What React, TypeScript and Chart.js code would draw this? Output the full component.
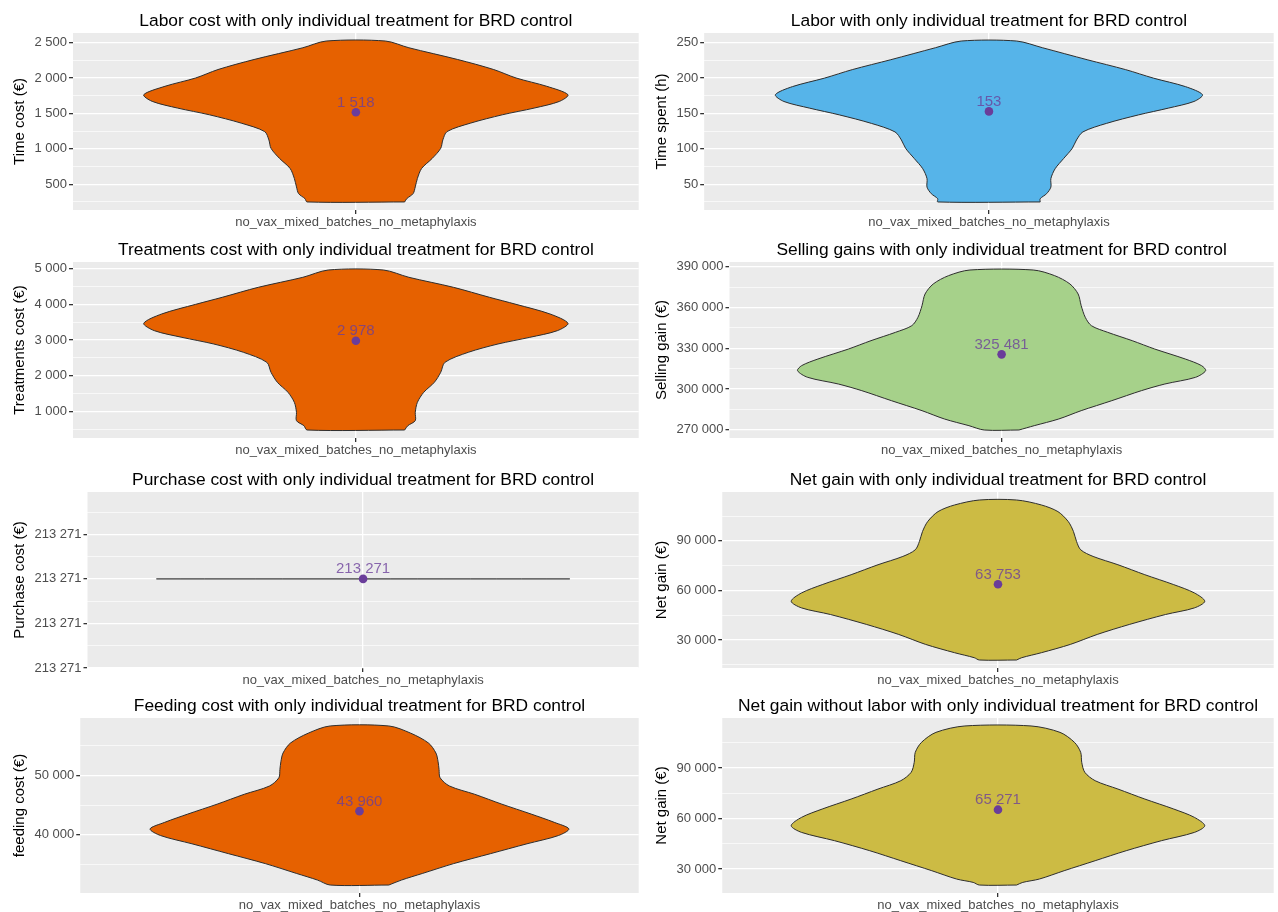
import React, { useEffect, useRef } from "react";
import { Chart, registerables } from "chart.js";

Chart.register(...registerables);

const FONT = "'Liberation Sans', Arial, Helvetica, sans-serif";
const CATEGORY = "no_vax_mixed_batches_no_metaphylaxis";

// ---------------- data ----------------
const panelTitles = [
  "Labor cost with only individual treatment for BRD control",
  "Labor with only individual treatment for BRD control",
  "Treatments cost with only individual treatment for BRD control",
  "Selling gains with only individual treatment for BRD control",
  "Purchase cost with only individual treatment for BRD control",
  "Net gain with only individual treatment for BRD control",
  "Feeding cost with only individual treatment for BRD control",
  "Net gain without labor with only individual treatment for BRD control",
];

const yAxisTitles = [
  "Time cost (€)",
  "Time spent (h)",
  "Treatments cost (€)",
  "Selling gain (€)",
  "Purchase cost (€)",
  "Net gain (€)",
  "feeding cost (€)",
  "Net gain (€)",
];

const meanValues = [1518, 153, 2978, 325481, 213271, 63753, 43960, 65271];

// Violin profiles, bottom -> top: value levels and relative half-width (0..1)
const laborCostY = [249, 296, 367, 462, 581, 723, 865, 1007, 1126, 1244, 1363, 1481, 1576, 1671, 1765, 1884, 2002, 2121, 2263, 2429, 2524];
const laborCostW = [0.23, 0.24, 0.27, 0.28, 0.29, 0.31, 0.36, 0.4, 0.41, 0.43, 0.54, 0.69, 0.84, 0.96, 1.0, 0.9, 0.755, 0.65, 0.48, 0.25, 0.14];

const laborHoursY = [25, 29.6, 36.7, 46, 58, 72, 86.5, 100.7, 112.6, 124, 136, 148, 157.6, 167, 176.5, 188, 200, 212, 226, 243, 252.4];
const laborHoursW = [0.24, 0.24, 0.27, 0.29, 0.29, 0.31, 0.35, 0.39, 0.41, 0.44, 0.55, 0.7, 0.84, 0.96, 1.0, 0.92, 0.77, 0.64, 0.46, 0.25, 0.13];

const treatmentsY = [488, 609, 749, 981, 1260, 1540, 1819, 2098, 2377, 2656, 2888, 3074, 3260, 3465, 3726, 3995, 4191, 4470, 4749, 4953];
const treatmentsW = [0.23, 0.245, 0.28, 0.28, 0.29, 0.32, 0.37, 0.4, 0.42, 0.53, 0.67, 0.82, 0.95, 1.0, 0.915, 0.755, 0.63, 0.46, 0.25, 0.13];

const sellingY = [269804, 272993, 277899, 284031, 291390, 298749, 303655, 308560, 313467, 317147, 322052, 329411, 335544, 341676, 346582, 352715, 361300, 369886, 377245, 383380, 387547];
const sellingW = [0.085, 0.16, 0.28, 0.39, 0.54, 0.685, 0.8, 0.95, 1.0, 0.98, 0.9, 0.75, 0.64, 0.52, 0.44, 0.41, 0.39, 0.375, 0.335, 0.26, 0.155];

const purchaseY = [213271, 213271];
const purchaseW = [1, 1];

const netGainY = [17960, 19365, 22375, 27391, 33411, 39431, 45452, 49465, 53478, 58495, 63512, 69532, 75552, 80569, 84582, 89599, 95619, 101639, 107659, 111672, 114682];
const netGainW = [0.09, 0.115, 0.21, 0.35, 0.48, 0.635, 0.81, 0.95, 1.0, 0.95, 0.85, 0.71, 0.58, 0.46, 0.4, 0.38, 0.365, 0.34, 0.29, 0.21, 0.09];

const feedingY = [31453, 32291, 33408, 35084, 36760, 38436, 39832, 40950, 42067, 43464, 45140, 46816, 48212, 49609, 51006, 52402, 53799, 55475, 57151, 58380];
const feedingW = [0.14, 0.2, 0.3, 0.45, 0.625, 0.8, 0.95, 1.0, 0.93, 0.82, 0.68, 0.55, 0.43, 0.385, 0.38, 0.375, 0.365, 0.33, 0.245, 0.14];

const netNoLaborY = [20495, 22079, 24059, 29010, 34950, 40891, 46832, 51782, 55743, 60693, 65644, 71584, 77525, 82475, 87426, 93366, 99307, 105248, 111188, 115000];
const netNoLaborW = [0.09, 0.12, 0.2, 0.32, 0.47, 0.62, 0.79, 0.95, 1.0, 0.95, 0.85, 0.71, 0.58, 0.47, 0.42, 0.405, 0.4, 0.37, 0.3, 0.16];

const violinY = [laborCostY, laborHoursY, treatmentsY, sellingY, purchaseY, netGainY, feedingY, netNoLaborY];
const violinW = [laborCostW, laborHoursW, treatmentsW, sellingW, purchaseW, netGainW, feedingW, netNoLaborW];

// Tick values (major labelled, minor unlabelled grid lines)
const majorTicks = [
  [500, 1000, 1500, 2000, 2500],
  [50, 100, 150, 200, 250],
  [1000, 2000, 3000, 4000, 5000],
  [270000, 300000, 330000, 360000, 390000],
  [213270.998, 213270.999, 213271, 213271.001],
  [30000, 60000, 90000, 120000],
  [40000, 50000],
  [30000, 60000, 90000, 120000],
];
const minorTicks = [
  [250, 750, 1250, 1750, 2250],
  [25, 75, 125, 175, 225],
  [500, 1500, 2500, 3500, 4500],
  [255000, 285000, 315000, 345000, 375000],
  [213270.9985, 213270.9995, 213271.0005, 213271.0015],
  [15000, 45000, 75000, 105000],
  [35000, 45000, 55000],
  [15000, 45000, 75000, 105000],
];
// explicit y limits only where the data has no spread
const yLimits: (number[] | null)[] = [null, null, null, null, [213270.998, 213271.00195], null, null, null];

const fillColors = ["#E66100", "#56B4E9", "#E66100", "#A6D18A", "#E66100", "#CCBB44", "#E66100", "#CCBB44"];

// ---------------- layout ----------------
const colLeft = [0, 643];
const colRight = [643, 1278];
const rightInset = 2;
const yTitleCenter = [20, 19];
const rowTop = [0, 229, 459, 685];
const panelTopOffset = 33;
const panelBottomOffset = [210, 209, 209, 208];
const xAxisBand = 24;
const titleCenterOffset = 21;

const HALF = 0.45;
const PANEL_BG = "#EBEBEB";
const TEXT_GREY = "#4D4D4D";
const POINT_COLOR = "#6A3D9A";
const LABEL_COLOR = "rgba(106, 61, 154, 0.78)";
const TITLE_SIZE = 17.4;

function fmt(v: number): string {
  const n = Math.round(v);
  return String(n).replace(/\B(?=(\d{3})+(?!\d))/g, " ");
}

function ViolinPanel({ idx }: { idx: number }) {
  const ref = useRef<HTMLCanvasElement | null>(null);
  const col = idx % 2;
  const row = Math.floor(idx / 2);
  const left = colLeft[col];
  const width = colRight[col] - colLeft[col];
  const top = rowTop[row];
  const height = panelBottomOffset[row] + xAxisBand;

  useEffect(() => {
    if (!ref.current) return;
    const ys = violinY[idx];
    const ws = violinW[idx];
    const lo = Math.min(...ys);
    const hi = Math.max(...ys);
    const lim = yLimits[idx] ?? [lo - 0.05 * (hi - lo), hi + 0.05 * (hi - lo)];
    const inRange = (v: number) => v >= lim[0] - 1e-9 && v <= lim[1] + 1e-9;
    const tickObjs = [
      ...majorTicks[idx].filter(inRange).map((v) => ({ value: v, minor: false })),
      ...minorTicks[idx].filter(inRange).map((v) => ({ value: v, minor: true })),
    ].sort((a, b) => a.value - b.value);

    const outline: { x: number; y: number }[] = [];
    for (let i = 0; i < ys.length; i++) outline.push({ x: 1 + HALF * ws[i], y: ys[i] });
    for (let i = ys.length - 1; i >= 0; i--) outline.push({ x: 1 - HALF * ws[i], y: ys[i] });
    outline.push({ x: outline[0].x, y: outline[0].y });

    const mean = meanValues[idx];
    const titleLH = TITLE_SIZE * 1.2;
    const titlePadTop = titleCenterOffset - titleLH / 2;
    const titlePadBottom = panelTopOffset - titlePadTop - titleLH;
    const yTitleLH = 15 * 1.2;

    const panelBg = {
      id: "panelBg",
      beforeDraw(chart: any) {
        const { ctx, chartArea: a } = chart;
        ctx.save();
        ctx.fillStyle = PANEL_BG;
        ctx.fillRect(a.left, a.top, a.right - a.left, a.bottom - a.top);
        ctx.restore();
      },
    };
    const meanLabel = {
      id: "meanLabel",
      afterDatasetsDraw(chart: any) {
        const { ctx } = chart;
        const px = chart.scales.x.getPixelForValue(1);
        const py = chart.scales.y.getPixelForValue(mean);
        ctx.save();
        ctx.font = `15px ${FONT}`;
        ctx.fillStyle = LABEL_COLOR;
        ctx.textAlign = "center";
        ctx.textBaseline = "alphabetic";
        ctx.fillText(fmt(mean), px, py - 5.5);
        ctx.restore();
      },
    };

    const chart = new Chart(ref.current, {
      type: "scatter",
      data: {
        datasets: [
          {
            data: [{ x: 1, y: mean }],
            showLine: false,
            pointRadius: 4.3,
            pointBackgroundColor: POINT_COLOR,
            pointBorderWidth: 0,
            order: 1,
          } as any,
          {
            data: outline,
            showLine: true,
            fill: "shape",
            backgroundColor: fillColors[idx],
            borderColor: idx === 4 ? "#555555" : "#2E2E2E",
            borderWidth: 1,
            pointRadius: 0,
            tension: 0.3,
            order: 2,
          } as any,
        ],
      },
      options: {
        animation: false,
        responsive: false,
        maintainAspectRatio: false,
        devicePixelRatio: 1,
        events: [],
        layout: { padding: { left: 0, right: rightInset, top: 0, bottom: 0 } },
        plugins: {
          legend: { display: false },
          tooltip: { enabled: false },
          title: {
            display: true,
            text: panelTitles[idx],
            fullSize: false,
            color: "#000000",
            font: { family: FONT, size: TITLE_SIZE, weight: "normal" as any, lineHeight: 1.2 },
            padding: { top: titlePadTop, bottom: titlePadBottom },
          },
        },
        scales: {
          x: {
            type: "linear",
            min: 0.4,
            max: 1.6,
            bounds: "data",
            afterBuildTicks: (s: any) => {
              s.ticks = [{ value: 1 }];
            },
            afterFit: (s: any) => {
              s.height = xAxisBand;
            },
            ticks: {
              callback: () => CATEGORY,
              autoSkip: false,
              maxRotation: 0,
              minRotation: 0,
              color: TEXT_GREY,
              font: { family: FONT, size: 13 },
              padding: 1,
            },
            grid: { color: "#FFFFFF", lineWidth: 1.3, tickLength: 4, tickColor: "#333333" },
            border: { display: false },
          },
          y: {
            type: "linear",
            min: lim[0],
            max: lim[1],
            bounds: "data",
            afterBuildTicks: (s: any) => {
              s.ticks = tickObjs.map((t) => ({ ...t }));
            },
            ticks: {
              callback: (v: any, i: number, t: any[]) => (t[i] && t[i].minor ? "" : fmt(Number(v))),
              autoSkip: false,
              color: TEXT_GREY,
              font: { family: FONT, size: 13 },
              padding: 2,
            },
            grid: {
              color: "#FFFFFF",
              lineWidth: (c: any) => (c.tick && c.tick.minor ? 0.65 : 1.3),
              tickColor: (c: any) => (c.tick && c.tick.minor ? "rgba(0,0,0,0)" : "#333333"),
              tickLength: 4,
            },
            border: { display: false },
            title: {
              display: true,
              text: yAxisTitles[idx],
              color: "#000000",
              font: { family: FONT, size: 15, lineHeight: 1.2 },
              padding: { top: yTitleCenter[col] - yTitleLH / 2, bottom: 3.5 },
            },
          },
        },
      } as any,
      plugins: [panelBg, meanLabel],
    });
    return () => chart.destroy();
  }, []);

  return (
    <canvas
      ref={ref}
      width={width}
      height={height}
      style={{ position: "absolute", left, top, width, height, display: "block" }}
    />
  );
}

export default function App() {
  return (
    <div style={{ position: "absolute", left: 0, top: 0, width: 1278, height: 912, background: "#FFFFFF", overflow: "hidden" }}>
      {panelTitles.map((_, i) => (
        <ViolinPanel key={i} idx={i} />
      ))}
    </div>
  );
}
